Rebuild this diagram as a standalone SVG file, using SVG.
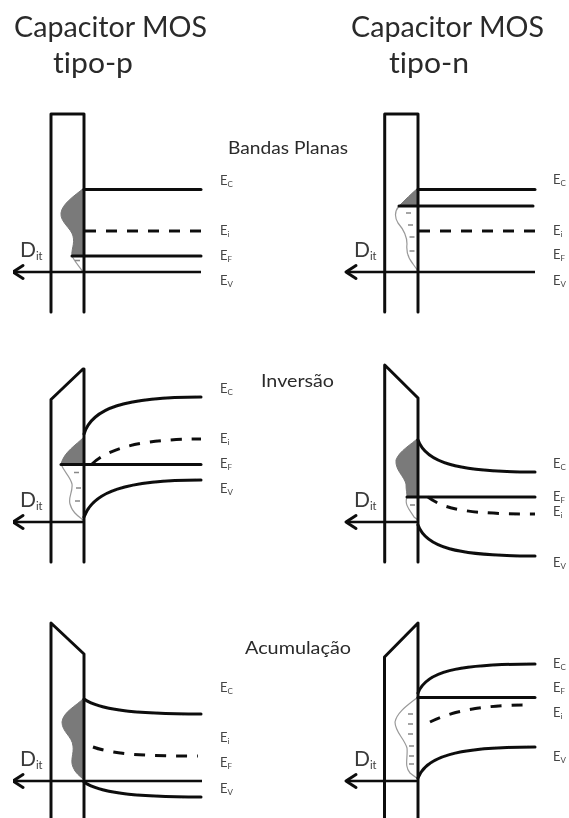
<svg xmlns="http://www.w3.org/2000/svg" width="569" height="818" viewBox="0 0 569 818">
<style>
.l{fill:none;stroke:#111;stroke-width:3;stroke-linecap:round;stroke-linejoin:round}
.d{fill:none;stroke:#111;stroke-width:3;stroke-dasharray:11 10}
.a{fill:none;stroke:#111;stroke-width:2.6}
.h{fill:none;stroke:#111;stroke-width:3;stroke-linecap:round;stroke-linejoin:round}
.f{fill:#7a7a7a;stroke:#777;stroke-width:1}
.o{fill:#fff;stroke:#999;stroke-width:1.2}
.m{fill:none;stroke:#888;stroke-width:1.6}
text{font-family:Lato,"Open Sans","Liberation Sans",sans-serif;fill:#2b2b2b;font-variant-ligatures:none}
.t{font-size:29px}
.s{font-size:17px}
.e{font-size:13px;fill:#444}
.e tspan{font-size:8px}
.i{font-size:21px;fill:#3a3a3a}
.i tspan{font-size:11px}
</style>
<defs>
<filter id="soft" x="0" y="0" width="100%" height="100%"><feGaussianBlur stdDeviation="0.45"/></filter>
<path id="arrow" d="M23 -6.500 L13 0 L23 6.500" class="h"/>
</defs>
<rect width="569" height="818" fill="#fff"/>
<g filter="url(#soft)">
<g id="titles">
<text class="t" x="14" y="37" textLength="193" lengthAdjust="spacingAndGlyphs">Capacitor MOS</text>
<text class="t" x="53" y="73" textLength="80" lengthAdjust="spacingAndGlyphs">tipo-p</text>
<text class="t" x="351" y="37" textLength="193" lengthAdjust="spacingAndGlyphs">Capacitor MOS</text>
<text class="t" x="389" y="73" textLength="80" lengthAdjust="spacingAndGlyphs">tipo-n</text>
<text class="s" x="228" y="154" textLength="120" lengthAdjust="spacingAndGlyphs">Bandas Planas</text>
<text class="s" x="261" y="387" textLength="73" lengthAdjust="spacingAndGlyphs">Inversão</text>
<text class="s" x="245" y="654" textLength="106" lengthAdjust="spacingAndGlyphs">Acumulação</text>
</g>
<g id="panel-p-flat">
<path class="f" d="M84 188 C74 196 62 204 61 213 C60 222 71 228 73 236 C75 244 71 250 72 256 L84 256Z"/>
<path class="o" d="M72 256 C75 262 79 266 83 272 L84 272 L84 256Z"/>
<path class="m" d="M75 260.500H80"/>
<path class="l" d="M51 312V114H84V312"/>
<path class="l" d="M84 189.500H201"/>
<path class="d" d="M85 231H201"/>
<path class="l" d="M72 256H201"/>
<path class="a" d="M13 272H201"/>
<use href="#arrow" y="272"/>
<text class="i" x="20" y="257">D<tspan dy="3">it</tspan></text>
<text class="e" x="220" y="185">E<tspan dy="2">C</tspan></text>
<text class="e" x="220" y="235">E<tspan dy="2">i</tspan></text>
<text class="e" x="220" y="260">E<tspan dy="2">F</tspan></text>
<text class="e" x="220" y="285">E<tspan dy="2">V</tspan></text>
</g>
<g id="panel-n-flat">
<path class="f" d="M418 188 C411 194 406 199 399 206 L418 206Z"/>
<path class="o" d="M399 206 C394 212 395 218 398 223 C404 230 407 236 407 244 C406 252 408 258 413 264 L418 271 L418 206Z"/>
<path class="m" d="M406 213H411M408 225H413M409.500 237H414.500M409.500 251H414.500"/>
<path class="l" d="M384.700 312V114H418V312"/>
<path class="l" d="M418 189.500H535"/>
<path class="l" d="M399 206H533"/>
<path class="d" d="M419 231H535"/>
<path class="a" d="M346 272H535"/>
<use href="#arrow" x="333" y="272"/>
<text class="i" x="354" y="257">D<tspan dy="3">it</tspan></text>
<text class="e" x="553" y="184">E<tspan dy="2">C</tspan></text>
<text class="e" x="553" y="235">E<tspan dy="2">i</tspan></text>
<text class="e" x="553" y="259">E<tspan dy="2">F</tspan></text>
<text class="e" x="553" y="285">E<tspan dy="2">V</tspan></text>
</g>
<g id="panel-p-inv">
<path class="f" d="M84 437 C76 445 64 452 61 464 L84 464Z"/>
<path class="o" d="M61 464 C64 472 70 476 72 484 C73 492 68 497 70 504 C72 512 78 516 83 520 L84 520 L84 464Z"/>
<path class="m" d="M74 472.500H79M76 488H81M75 501H80"/>
<path class="l" d="M51 562V399.500L83 369H84V562"/>
<path class="l" d="M84 434 C92 408 125 397 201 397"/>
<path class="d" d="M92 464 C110 447 145 439 201 439"/>
<path class="l" d="M61 464.500H201"/>
<path class="l" d="M84 517 C93 492 125 480 201 480"/>
<path class="a" d="M13 522H84"/>
<use href="#arrow" y="522"/>
<text class="i" x="20" y="507">D<tspan dy="3">it</tspan></text>
<text class="e" x="220" y="393">E<tspan dy="2">C</tspan></text>
<text class="e" x="220" y="443">E<tspan dy="2">i</tspan></text>
<text class="e" x="220" y="468">E<tspan dy="2">F</tspan></text>
<text class="e" x="220" y="493">E<tspan dy="2">V</tspan></text>
</g>
<g id="panel-n-inv">
<path class="f" d="M418 438 C412 444 399 451 396 460 C395 470 404 476 406 484 C406 490 407 493 407 497 L418 497Z"/>
<path class="o" d="M407 497 C404 505 410 510 414 517 L418 520 L418 497Z"/>
<path class="m" d="M410 505H415"/>
<path class="l" d="M384.700 562V365L418 398V562"/>
<path class="l" d="M418 440 C426 462 455 472 535 472"/>
<path class="l" d="M407 497H535"/>
<path class="d" d="M428 497 C445 510 470 514 535 514"/>
<path class="l" d="M418 525 C426 547 455 556 535 556"/>
<path class="a" d="M346 522H418"/>
<use href="#arrow" x="333" y="522"/>
<text class="i" x="354" y="507">D<tspan dy="3">it</tspan></text>
<text class="e" x="553" y="468">E<tspan dy="2">C</tspan></text>
<text class="e" x="553" y="501">E<tspan dy="2">F</tspan></text>
<text class="e" x="553" y="516">E<tspan dy="2">i</tspan></text>
<text class="e" x="553" y="567">E<tspan dy="2">V</tspan></text>
</g>
<g id="panel-p-acc">
<path class="f" d="M84 698 C76 706 63 712 62 722 C62 732 72 736 73 746 C74 754 70 760 73 767 C75 773 80 776 84 780Z"/>
<path class="l" d="M51 818V623L84 654V818"/>
<path class="l" d="M84 699 C98 709 130 714 201 714"/>
<path class="d" d="M93 747 C115 755 150 756 198 756"/>
<path class="a" d="M13 781H202"/>
<path class="l" d="M84 782 C98 792 130 797 201 797"/>
<use href="#arrow" y="781"/>
<text class="i" x="20" y="766">D<tspan dy="3">it</tspan></text>
<text class="e" x="220" y="692">E<tspan dy="2">C</tspan></text>
<text class="e" x="220" y="742">E<tspan dy="2">i</tspan></text>
<text class="e" x="220" y="767">E<tspan dy="2">F</tspan></text>
<text class="e" x="220" y="793">E<tspan dy="2">V</tspan></text>
</g>
<g id="panel-n-acc">
<path class="o" d="M418 697 C408 705 397 712 395 722 C395 732 404 738 407 748 C408 758 404 766 410 773 L418 779Z"/>
<path class="m" d="M408 714H413M408 724H413M408 734H413M409 746H414M409 756H414M409 764H414"/>
<path class="l" d="M384.500 818V657L418 623V818"/>
<path class="l" d="M418 693 C426 672 455 664 535 664"/>
<path class="l" d="M418 697.500H535"/>
<path class="d" d="M430 722 C450 712 480 705 527 705"/>
<path class="l" d="M418 778 C426 757 455 747 535 747"/>
<path class="a" d="M346 781H418"/>
<use href="#arrow" x="333" y="781"/>
<text class="i" x="354" y="766">D<tspan dy="3">it</tspan></text>
<text class="e" x="553" y="668">E<tspan dy="2">C</tspan></text>
<text class="e" x="553" y="692">E<tspan dy="2">F</tspan></text>
<text class="e" x="553" y="717">E<tspan dy="2">i</tspan></text>
<text class="e" x="553" y="761">E<tspan dy="2">V</tspan></text>
</g>
</g>
</svg>
